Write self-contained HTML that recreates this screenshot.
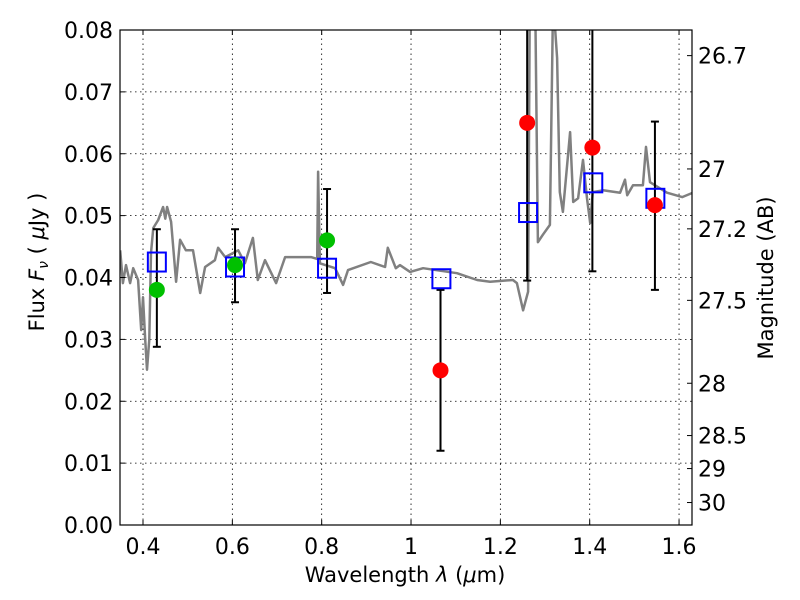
<!DOCTYPE html>
<html><head><meta charset="utf-8"><style>
body{margin:0;background:#fff;}
svg{display:block;font-family:"DejaVu Sans","Liberation Sans",sans-serif;}
</style></head><body>
<svg id="chart" width="800" height="600">
<defs><clipPath id="clip"><rect x="120" y="30" width="572" height="495"/></clipPath></defs>
<rect x="0" y="0" width="800" height="600" fill="#fff"/>
<g id="grid"></g>
<g id="spec" clip-path="url(#clip)"></g>
<g id="marks" clip-path="url(#clip)"></g>
<rect x="120" y="30" width="572" height="495" fill="none" stroke="#000" stroke-width="1.2"/>
<g id="axes"></g>
<text x="405" y="582" font-size="21" text-anchor="middle">Wavelength  <tspan font-style="italic">λ</tspan> (<tspan font-style="italic">μ</tspan>m)</text>
<text transform="translate(44,262) rotate(-90)" font-size="21" text-anchor="middle">Flux  <tspan font-style="italic">F<tspan font-size="14" dy="4">ν</tspan></tspan><tspan dy="-4">  ( </tspan><tspan font-style="italic">μ</tspan>Jy )</text>
<text transform="translate(773,278) rotate(-90)" font-size="21" text-anchor="middle">Magnitude (AB)</text>
</svg>
<script>
const xTicks=[0.4,0.6,0.8,1.0,1.2,1.4,1.6];
const xTickLabels=["0.4","0.6","0.8","1","1.2","1.4","1.6"];
const yTicks=[0,0.01,0.02,0.03,0.04,0.05,0.06,0.07,0.08];
const yTickLabels=["0.00","0.01","0.02","0.03","0.04","0.05","0.06","0.07","0.08"];
const magTicks=[26.7,27,27.2,27.5,28,28.5,29,30];
const magTickLabels=["26.7","27","27.2","27.5","28","28.5","29","30"];
const specWave=[0.349,0.355,0.362,0.371,0.378,0.389,0.396,0.400,0.405,0.409,0.414,0.418,0.423,0.434,0.445,0.450,0.454,0.463,0.474,0.483,0.496,0.512,0.528,0.539,0.561,0.568,0.584,0.613,0.628,0.646,0.657,0.673,0.698,0.718,0.747,0.776,0.790,0.792,0.796,0.830,0.848,0.859,0.910,0.942,0.948,0.966,0.975,0.998,1.027,1.103,1.148,1.177,1.228,1.237,1.251,1.262,1.266,1.278,1.284,1.295,1.311,1.318,1.327,1.333,1.340,1.356,1.363,1.374,1.385,1.394,1.401,1.407,1.430,1.468,1.479,1.484,1.497,1.519,1.526,1.535,1.573,1.607,1.631];
const specFlux=[.0444,.0391,.0420,.0391,.0415,.0396,.0315,.0368,.0300,.0251,.0300,.0440,.0480,.0493,.0514,.0495,.0514,.0490,.0393,.0461,.0444,.0444,.0375,.0417,.0428,.0448,.0433,.0444,.0423,.0464,.0396,.0428,.0391,.0433,.0433,.0433,.0430,.0571,.0423,.0415,.0388,.0412,.0425,.0417,.0448,.0415,.0420,.0409,.0415,.0407,.0396,.0393,.0396,.0391,.0347,.0377,.085,.085,.0457,.0469,.0485,.085,.0755,.0538,.0506,.0635,.0522,.0528,.0590,.0528,.0488,.0538,.0541,.0537,.0558,.0533,.0549,.0549,.0611,.0554,.0537,.0530,.0537];
const bandWave=[0.431,0.606,0.812,1.068,1.262,1.408,1.547];
const modelFlux=[0.0425,0.0417,0.0415,0.0398,0.0505,0.0553,0.0528];
const obsWave=[0.431,0.606,0.812,1.066,1.260,1.406,1.546];
const obsFlux=[0.038,0.042,0.046,0.025,0.065,0.061,0.0517];
const obsColor=["green","green","green","red","red","red","red"];
const errLow=[0.0288,0.036,0.0375,0.012,0.0395,0.041,0.038];
const errHigh=[0.0478,0.0478,0.0543,0.038,0.09,0.09,0.0652];

const X0=120,X1=692,Y0=525,Y1=30,XMIN=0.3485,XMAX=1.629,YMIN=0,YMAX=0.08;
const sx=v=>X0+(v-XMIN)/(XMAX-XMIN)*(X1-X0);
const sy=v=>Y0-(v-YMIN)/(YMAX-YMIN)*(Y0-Y1);
const magToFlux=m=>Math.pow(10,(23.9-m)/2.5);
const NS="http://www.w3.org/2000/svg";
function mk(tag,attrs,parent){const e=document.createElementNS(NS,tag);for(const k in attrs)e.setAttribute(k,attrs[k]);parent.appendChild(e);return e;}
const grid=document.getElementById('grid'),axes=document.getElementById('axes'),spec=document.getElementById('spec'),marks=document.getElementById('marks');

xTicks.forEach((t,i)=>{const x=sx(t);
 const g=mk('line',{x1:x,x2:x,y1:Y0,y2:Y1,stroke:'#000','stroke-dasharray':'1.5,3.5','stroke-width':0.8},grid);
 
 
 mk('line',{x1:x,x2:x,y1:Y0,y2:Y0-5,stroke:'#000'},axes);
 mk('line',{x1:x,x2:x,y1:Y1,y2:Y1+5,stroke:'#000'},axes);
 const tx=mk('text',{x:x,y:554,'font-size':22,'text-anchor':'middle'},axes);tx.textContent=xTickLabels[i];
 
 
});
yTicks.forEach((t,i)=>{const y=sy(t);
 if(t>0&&t<0.08){const g=mk('line',{x1:X0,x2:X1,y1:y,y2:y,stroke:'#000','stroke-dasharray':'1.5,3.5','stroke-width':0.8},grid);
 
 }
 mk('line',{x1:X0,x2:X0+5,y1:y,y2:y,stroke:'#000'},axes);
 const tx=mk('text',{x:113,y:y+8,'font-size':22,'text-anchor':'end'},axes);tx.textContent=yTickLabels[i];
 
 
});
magTicks.forEach((m,i)=>{const y=sy(magToFlux(m));
 mk('line',{x1:X1,x2:X1-5,y1:y,y2:y,stroke:'#000'},axes);
 const tx=mk('text',{x:698,y:y+8,'font-size':22},axes);tx.textContent=magTickLabels[i];
 
 
});
const d=specWave.map((w,i)=>(i?'L':'M')+sx(w).toFixed(1)+','+sy(specFlux[i]).toFixed(1)).join(' ');
const p=mk('path',{d:d,fill:'none',stroke:'#808080','stroke-width':2.5,'stroke-linejoin':'round'},spec);


obsWave.forEach((w,i)=>{const x=sx(w);
 const e=mk('g',{},marks);
 
 
 mk('line',{x1:x,x2:x,y1:sy(errLow[i]),y2:sy(errHigh[i]),stroke:'#000','stroke-width':2},e);
 [errLow[i],errHigh[i]].forEach(v=>mk('line',{x1:x-4,x2:x+4,y1:sy(v),y2:sy(v),stroke:'#000','stroke-width':2},e));
});
bandWave.forEach((w,i)=>{const x=sx(w),y=sy(modelFlux[i]);
 const r=mk('rect',{x:x-9,y:y-9.5,width:18,height:19,fill:'none',stroke:'#0000ff','stroke-width':2},marks);
 
 
});
obsWave.forEach((w,i)=>{
 const c=mk('circle',{cx:sx(w),cy:sy(obsFlux[i]),r:8,fill:obsColor[i]==='green'?'#00c000':'#ff0000'},marks);
 
 
});
</script>
</body></html>
